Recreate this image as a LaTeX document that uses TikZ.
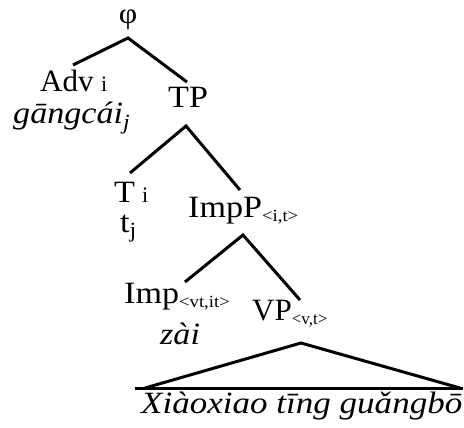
\documentclass[tikz,border=0pt]{standalone}
\usepackage{fontspec}
\setmainfont{Liberation Serif}
\newcommand{\sx}[2][1.1]{\scalebox{#1}[1]{#2}}
\newcommand{\lsub}[1]{\raisebox{-4pt}{\fontsize{17}{17}\selectfont #1}}
\begin{document}
\begin{tikzpicture}[x=1pt,y=-1pt,
  lab/.style={inner sep=0pt,anchor=base west,font=\fontsize{31}{31}\selectfont},
  ita/.style={lab,font=\fontsize{31}{31}\selectfont\itshape},
  sm/.style={inner sep=0pt,anchor=base west,font=\fontsize{22}{22}\selectfont},
  edge/.style={line width=3pt}]
\useasboundingbox (0,0) rectangle (464,428);
% labels
\node[inner sep=0pt,anchor=base,font=\fontsize{29}{29}\selectfont] (phi) at (128,24) {\sx{φ}};
\node[lab] (adv) at (40,92) {Adv};
\node[sm] (advi) at (101,92) {i};
\node[ita] (gang) at (13,124) {\sx{gāngcái\textsubscript{j}}};
\node[lab] (tp) at (168,108) {\sx{TP}};
\node[lab] (t) at (114,202) {\sx{T}};
\node[sm] (ti) at (142,202) {i};
\node[lab] (tj) at (120,232) {\sx{t\textsubscript{j}}};
\node[lab] (impp) at (188,218) {\sx{ImpP\lsub{<i,t>}}};
\node[lab] (imp) at (124,303) {\sx{Imp\lsub{<vt,it>}}};
\node[ita] (zai) at (160,344) {\sx{zài}};
\node[lab] (vp) at (252,320) {\sx[1.0]{VP\lsub{<v,t>}}};
\node[ita] (xx) at (141,413) {\sx[1.13]{Xiàoxiao tīng guǎngbō}};
% branch points
\coordinate (a0) at (128,38);
\coordinate (a1) at (73,65);
\coordinate (a2) at (187,82);
\coordinate (b0) at (186,126);
\coordinate (b1) at (130,173);
\coordinate (b2) at (240,190);
\coordinate (c0) at (243,235);
\coordinate (c1) at (185,282);
\coordinate (c2) at (300,300);
\coordinate (d0) at (301,343);
\coordinate (d1) at (145,388);
\coordinate (d2) at (460,388);
\coordinate (e1) at (135,388);
\coordinate (e2) at (463,388);
\draw[edge] (a1) -- (a0) -- (a2);
\draw[edge] (b1) -- (b0) -- (b2);
\draw[edge] (c1) -- (c0) -- (c2);
\draw[edge,line join=miter] (d1) -- (d0) -- (d2);
\draw[edge] (e1) -- (e2);
\end{tikzpicture}
\end{document}
